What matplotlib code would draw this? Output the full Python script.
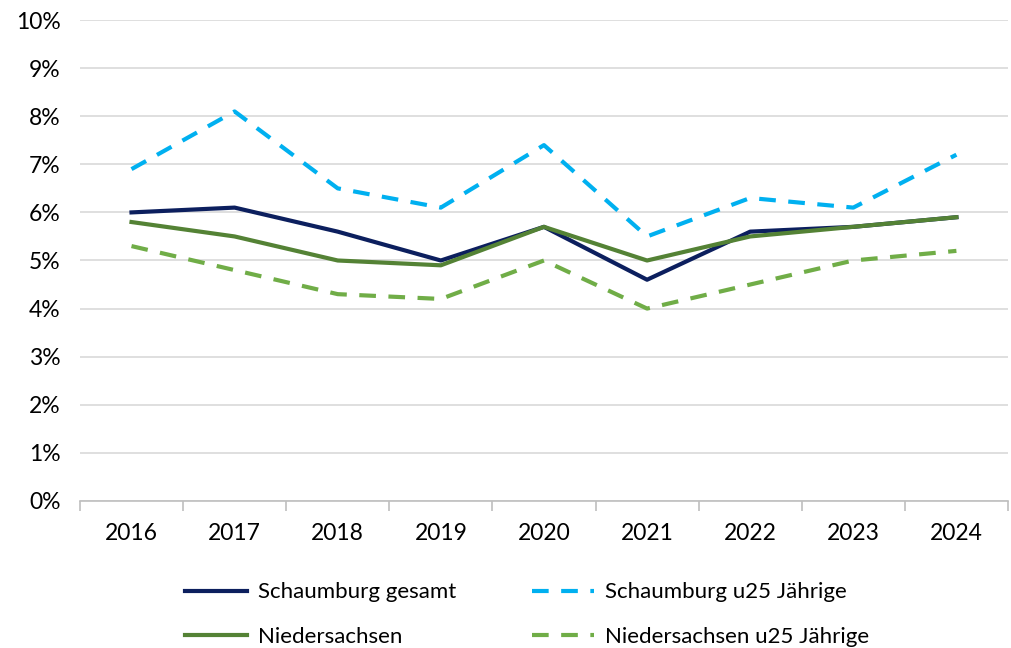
import matplotlib
matplotlib.use('Agg')
import matplotlib.pyplot as plt
from matplotlib.ticker import FixedLocator, PercentFormatter

plt.rcParams['font.family'] = ['Lato', 'DejaVu Sans']

years = ['2016', '2017', '2018', '2019', '2020', '2021', '2022', '2023', '2024']
schaumburg = [6.0, 6.1, 5.6, 5.0, 5.7, 4.6, 5.6, 5.7, 5.9]
schaumburg_u25 = [6.9, 8.1, 6.5, 6.1, 7.4, 5.5, 6.3, 6.1, 7.2]
nds = [5.8, 5.5, 5.0, 4.9, 5.7, 5.0, 5.5, 5.7, 5.9]
nds_u25 = [5.3, 4.8, 4.3, 4.2, 5.0, 4.0, 4.5, 5.0, 5.2]

fig = plt.figure(figsize=(10.12, 6.48), dpi=100)
ax = fig.add_axes([0.079, 0.227, 0.917, 0.742])

x = range(len(years))
l1, = ax.plot(x, schaumburg, color='#0c1f5e', lw=3, label='Schaumburg gesamt')
l2, = ax.plot(x, schaumburg_u25, color='#00b0f0', lw=3, ls=(0, (4, 3)), label='Schaumburg u25 Jährige')
l3, = ax.plot(x, nds, color='#548235', lw=3, label='Niedersachsen')
l4, = ax.plot(x, nds_u25, color='#70ad47', lw=3, ls=(0, (4, 3)), label='Niedersachsen u25 Jährige')

ax.set_ylim(0, 10)
ax.set_yticks(range(0, 11))
ax.yaxis.set_major_formatter(PercentFormatter(decimals=0))
ax.grid(axis='y', color='#d9d9d9', lw=1.2)
ax.set_axisbelow(True)

ax.set_xlim(-0.5, len(years) - 0.5)
ax.set_xticks(list(x))
ax.set_xticklabels(years)
ax.xaxis.set_minor_locator(FixedLocator([i - 0.5 for i in range(len(years) + 1)]))
ax.tick_params(axis='x', which='major', length=0, pad=16, labelsize=16.5)
ax.tick_params(axis='x', which='minor', length=7, color='#bfbfbf', width=1.2)
ax.tick_params(axis='y', length=0, labelsize=16.5, pad=14)

for s in ['top', 'right', 'left']:
    ax.spines[s].set_visible(False)
ax.spines['bottom'].set_color('#bfbfbf')
ax.spines['bottom'].set_linewidth(1.2)

fig.legend([l1, l3, l2, l4], [l.get_label() for l in (l1, l3, l2, l4)],
           loc='upper left', bbox_to_anchor=(0.163, 0.132), ncol=2, frameon=False,
           fontsize=16, handlelength=2.8, handletextpad=0.5, columnspacing=3.4,
           labelspacing=1.1)

plt.savefig('out.png', dpi=100)
